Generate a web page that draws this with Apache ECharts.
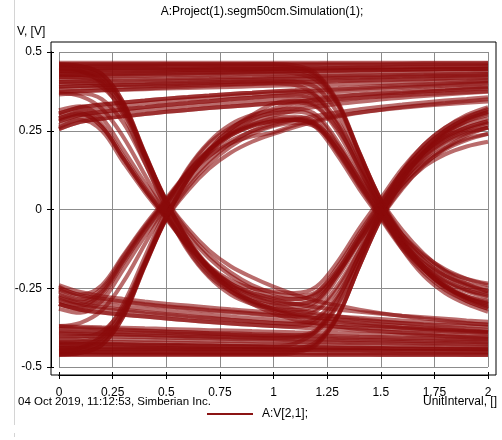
<!DOCTYPE html>
<html>
<head>
<meta charset="utf-8">
<style>
  html, body { margin: 0; padding: 0; background: #fff; }
  #chart { width: 502px; height: 440px; }
</style>
<script src="https://cdn.jsdelivr.net/npm/echarts@6.0.0/dist/echarts.min.js"></script>
</head>
<body>
<div id="chart"></div>
<script>
// Sample instants across two unit intervals
const unitInterval = [0,0.1,0.2,0.3,0.4,0.5,0.6,0.7,0.8,0.9,1.0,1.1,1.2,1.3,1.4,1.5,1.6,1.7,1.8,1.9,2.0];

// Long runs of ones
const steadyHigh = [
  [0.466,0.466,0.466,0.466,0.466,0.466,0.466,0.466,0.466,0.466,0.466,0.466,0.466,0.466,0.466,0.466,0.466,0.466,0.466,0.466,0.466],
  [0.46,0.46,0.46,0.46,0.46,0.461,0.461,0.461,0.461,0.462,0.462,0.462,0.462,0.463,0.463,0.463,0.463,0.464,0.464,0.464,0.465],
  [0.455,0.455,0.456,0.456,0.456,0.457,0.457,0.457,0.458,0.458,0.458,0.458,0.459,0.459,0.459,0.459,0.46,0.46,0.46,0.46,0.46],
  [0.45,0.45,0.449,0.449,0.449,0.448,0.448,0.448,0.447,0.447,0.447,0.447,0.446,0.446,0.446,0.446,0.445,0.445,0.445,0.445,0.445],
  [0.445,0.446,0.446,0.447,0.447,0.448,0.448,0.449,0.449,0.45,0.45,0.45,0.451,0.451,0.452,0.452,0.453,0.453,0.454,0.454,0.455],
  [0.438,0.439,0.44,0.441,0.441,0.442,0.443,0.444,0.445,0.445,0.446,0.447,0.448,0.449,0.449,0.45,0.451,0.452,0.452,0.453,0.454],
  [0.432,0.433,0.434,0.434,0.435,0.436,0.437,0.437,0.438,0.439,0.44,0.44,0.441,0.442,0.443,0.443,0.444,0.445,0.446,0.446,0.447],
  [0.426,0.427,0.428,0.43,0.431,0.432,0.433,0.434,0.435,0.436,0.437,0.438,0.439,0.44,0.441,0.442,0.443,0.444,0.445,0.446,0.447],
  [0.42,0.421,0.422,0.423,0.424,0.425,0.426,0.427,0.428,0.429,0.43,0.431,0.432,0.433,0.434,0.435,0.436,0.437,0.438,0.439,0.44],
  [0.412,0.413,0.414,0.415,0.416,0.417,0.418,0.419,0.42,0.421,0.422,0.423,0.424,0.425,0.426,0.427,0.428,0.429,0.43,0.431,0.432],
  [0.405,0.407,0.408,0.409,0.41,0.411,0.413,0.414,0.415,0.416,0.418,0.419,0.42,0.421,0.422,0.423,0.425,0.426,0.427,0.428,0.43],
  [0.398,0.4,0.402,0.403,0.405,0.406,0.408,0.409,0.411,0.412,0.414,0.415,0.416,0.418,0.419,0.42,0.422,0.423,0.424,0.425,0.427],
  [0.39,0.392,0.393,0.395,0.396,0.398,0.399,0.401,0.402,0.404,0.405,0.407,0.408,0.41,0.411,0.413,0.414,0.416,0.417,0.419,0.42],
  [0.383,0.385,0.387,0.389,0.391,0.393,0.395,0.397,0.398,0.4,0.402,0.404,0.405,0.407,0.409,0.41,0.412,0.413,0.415,0.416,0.418],
  [0.375,0.377,0.379,0.38,0.382,0.384,0.386,0.387,0.389,0.391,0.393,0.394,0.396,0.398,0.4,0.401,0.403,0.405,0.407,0.408,0.41]
];
// Ones settling slowly after a recent rise
const settlingHigh = [
  [0.28,0.30,0.31,0.318,0.325,0.332,0.338,0.344,0.35,0.355,0.36,0.365,0.37,0.374,0.378,0.382,0.386,0.39,0.393,0.396,0.40],
  [0.305,0.325,0.333,0.34,0.346,0.352,0.357,0.362,0.367,0.371,0.375,0.379,0.383,0.386,0.389,0.392,0.395,0.398,0.401,0.404,0.407],
  [0.255,0.278,0.288,0.296,0.303,0.31,0.316,0.322,0.327,0.332,0.337,0.342,0.346,0.35,0.354,0.358,0.362,0.366,0.369,0.372,0.375],
  [0.29,0.312,0.322,0.33,0.337,0.344,0.35,0.355,0.36,0.365,0.369,0.373,0.377,0.381,0.384,0.387,0.39,0.393,0.396,0.399,0.402],
  [0.268,0.29,0.3,0.308,0.315,0.321,0.327,0.333,0.338,0.343,0.348,0.352,0.357,0.361,0.364,0.368,0.371,0.375,0.378,0.381,0.384]
];
// 1,1,0
const highThenFall = [
  [0.462,0.462,0.462,0.462,0.462,0.462,0.462,0.462,0.462,0.462,0.462,0.457,0.432,0.342,0.182,0.032,-0.065,-0.14,-0.195,-0.235,-0.26],
  [0.452,0.452,0.452,0.453,0.453,0.453,0.453,0.454,0.454,0.454,0.454,0.45,0.426,0.338,0.18,0.03,-0.09,-0.18,-0.24,-0.28,-0.305],
  [0.44,0.44,0.441,0.441,0.442,0.442,0.443,0.443,0.444,0.444,0.445,0.442,0.42,0.335,0.18,0.03,-0.08,-0.16,-0.21,-0.245,-0.265],
  [0.425,0.426,0.427,0.428,0.429,0.43,0.431,0.432,0.433,0.434,0.435,0.432,0.41,0.33,0.175,0.025,-0.095,-0.185,-0.245,-0.285,-0.31],
  [0.39,0.392,0.394,0.396,0.398,0.40,0.402,0.404,0.405,0.407,0.408,0.406,0.388,0.305,0.163,0.018,-0.098,-0.185,-0.24,-0.275,-0.295],
  [0.372,0.375,0.378,0.381,0.384,0.387,0.39,0.393,0.396,0.398,0.40,0.395,0.36,0.265,0.13,-0.005,-0.125,-0.21,-0.265,-0.30,-0.325],
  [0.305,0.325,0.333,0.34,0.346,0.352,0.357,0.362,0.367,0.371,0.375,0.376,0.358,0.28,0.15,0.012,-0.105,-0.19,-0.25,-0.29,-0.315],
  [0.28,0.30,0.31,0.318,0.325,0.332,0.338,0.344,0.35,0.355,0.36,0.362,0.345,0.27,0.145,0.01,-0.10,-0.17,-0.21,-0.235,-0.25],
  [0.255,0.278,0.288,0.296,0.303,0.31,0.316,0.322,0.327,0.332,0.337,0.34,0.325,0.255,0.135,0.0,-0.11,-0.19,-0.245,-0.275,-0.29]
];
// 1,0,1
const fallThenRise = [
  [0.46,0.455,0.43,0.34,0.18,0.03,-0.07,-0.145,-0.20,-0.24,-0.265,-0.275,-0.262,-0.19,-0.085,0.015,0.11,0.18,0.23,0.26,0.28],
  [0.45,0.44,0.40,0.30,0.15,0.0,-0.125,-0.21,-0.26,-0.29,-0.305,-0.31,-0.292,-0.205,-0.095,0.008,0.105,0.175,0.225,0.255,0.275],
  [0.44,0.437,0.415,0.33,0.175,0.025,-0.095,-0.18,-0.235,-0.265,-0.28,-0.285,-0.265,-0.18,-0.075,0.025,0.12,0.19,0.245,0.28,0.30],
  [0.42,0.418,0.40,0.32,0.17,0.02,-0.10,-0.19,-0.25,-0.29,-0.315,-0.325,-0.315,-0.24,-0.13,-0.025,0.07,0.135,0.175,0.20,0.215],
  [0.405,0.404,0.388,0.31,0.165,0.016,-0.08,-0.155,-0.21,-0.25,-0.275,-0.285,-0.27,-0.20,-0.10,-0.003,0.08,0.145,0.19,0.22,0.24],
  [0.37,0.36,0.32,0.23,0.11,-0.01,-0.13,-0.215,-0.27,-0.30,-0.315,-0.32,-0.30,-0.215,-0.105,-0.005,0.09,0.16,0.21,0.24,0.26],
  [0.30,0.315,0.27,0.17,0.07,-0.02,-0.11,-0.18,-0.225,-0.25,-0.26,-0.265,-0.245,-0.165,-0.06,0.035,0.13,0.205,0.26,0.30,0.325],
  [0.285,0.302,0.262,0.162,0.063,-0.025,-0.12,-0.2,-0.25,-0.28,-0.295,-0.30,-0.28,-0.195,-0.085,0.02,0.12,0.195,0.25,0.288,0.31],
  [0.26,0.285,0.25,0.15,0.055,-0.03,-0.115,-0.19,-0.24,-0.27,-0.29,-0.30,-0.285,-0.205,-0.10,0.005,0.10,0.17,0.22,0.25,0.27]
];
// 1,0,0
const fallThenLow = [
  [0.46,0.455,0.43,0.34,0.18,0.03,-0.06,-0.13,-0.18,-0.215,-0.245,-0.27,-0.29,-0.305,-0.318,-0.329,-0.338,-0.346,-0.353,-0.36,-0.366],
  [0.445,0.442,0.42,0.333,0.176,0.026,-0.094,-0.186,-0.25,-0.29,-0.315,-0.332,-0.344,-0.352,-0.359,-0.365,-0.37,-0.375,-0.379,-0.383,-0.387],
  [0.43,0.428,0.408,0.325,0.172,0.022,-0.098,-0.19,-0.255,-0.295,-0.32,-0.338,-0.35,-0.358,-0.365,-0.37,-0.375,-0.379,-0.383,-0.387,-0.39],
  [0.365,0.368,0.35,0.275,0.148,0.008,-0.105,-0.195,-0.26,-0.30,-0.33,-0.35,-0.363,-0.372,-0.38,-0.386,-0.392,-0.397,-0.402,-0.406,-0.41],
  [0.315,0.328,0.29,0.19,0.085,-0.01,-0.105,-0.185,-0.24,-0.275,-0.3,-0.318,-0.33,-0.34,-0.348,-0.355,-0.361,-0.367,-0.372,-0.377,-0.381],
  [0.29,0.305,0.262,0.162,0.063,-0.025,-0.113,-0.185,-0.235,-0.265,-0.285,-0.30,-0.31,-0.318,-0.325,-0.331,-0.337,-0.342,-0.347,-0.352,-0.356]
];
// Long runs of zeros
const steadyLow = [
  [-0.462,-0.462,-0.462,-0.462,-0.462,-0.462,-0.462,-0.462,-0.462,-0.462,-0.462,-0.462,-0.462,-0.462,-0.462,-0.462,-0.462,-0.462,-0.462,-0.462,-0.462],
  [-0.457,-0.457,-0.457,-0.458,-0.458,-0.458,-0.458,-0.459,-0.459,-0.459,-0.459,-0.46,-0.46,-0.46,-0.46,-0.461,-0.461,-0.461,-0.461,-0.462,-0.462],
  [-0.452,-0.452,-0.453,-0.453,-0.453,-0.454,-0.454,-0.454,-0.455,-0.455,-0.455,-0.455,-0.456,-0.456,-0.456,-0.456,-0.457,-0.457,-0.457,-0.457,-0.457],
  [-0.447,-0.447,-0.446,-0.446,-0.446,-0.445,-0.445,-0.445,-0.444,-0.444,-0.444,-0.444,-0.443,-0.443,-0.443,-0.443,-0.442,-0.442,-0.442,-0.442,-0.442],
  [-0.442,-0.442,-0.443,-0.443,-0.444,-0.444,-0.445,-0.445,-0.446,-0.446,-0.446,-0.447,-0.447,-0.448,-0.448,-0.449,-0.449,-0.449,-0.45,-0.45,-0.45],
  [-0.436,-0.437,-0.438,-0.439,-0.439,-0.44,-0.441,-0.442,-0.443,-0.443,-0.444,-0.445,-0.446,-0.447,-0.447,-0.448,-0.449,-0.45,-0.45,-0.451,-0.452],
  [-0.43,-0.431,-0.431,-0.432,-0.433,-0.433,-0.434,-0.435,-0.435,-0.436,-0.437,-0.437,-0.438,-0.439,-0.439,-0.44,-0.441,-0.441,-0.442,-0.443,-0.443],
  [-0.424,-0.425,-0.426,-0.428,-0.429,-0.43,-0.431,-0.432,-0.433,-0.434,-0.435,-0.436,-0.437,-0.438,-0.439,-0.44,-0.441,-0.442,-0.443,-0.444,-0.445],
  [-0.418,-0.419,-0.42,-0.421,-0.422,-0.423,-0.424,-0.425,-0.426,-0.427,-0.428,-0.428,-0.429,-0.43,-0.431,-0.432,-0.433,-0.434,-0.435,-0.436,-0.437],
  [-0.41,-0.411,-0.412,-0.413,-0.414,-0.415,-0.416,-0.417,-0.418,-0.419,-0.42,-0.421,-0.422,-0.423,-0.424,-0.425,-0.426,-0.427,-0.428,-0.429,-0.43],
  [-0.40,-0.401,-0.403,-0.404,-0.405,-0.407,-0.408,-0.409,-0.411,-0.412,-0.413,-0.415,-0.416,-0.417,-0.419,-0.42,-0.421,-0.423,-0.424,-0.425,-0.427],
  [-0.393,-0.395,-0.397,-0.398,-0.4,-0.401,-0.403,-0.404,-0.406,-0.407,-0.409,-0.41,-0.411,-0.413,-0.414,-0.415,-0.417,-0.418,-0.419,-0.42,-0.422],
  [-0.385,-0.387,-0.388,-0.39,-0.391,-0.393,-0.395,-0.396,-0.398,-0.4,-0.401,-0.403,-0.404,-0.406,-0.408,-0.409,-0.411,-0.412,-0.414,-0.416,-0.417],
  [-0.378,-0.38,-0.382,-0.384,-0.386,-0.388,-0.39,-0.392,-0.393,-0.395,-0.397,-0.399,-0.40,-0.402,-0.404,-0.405,-0.407,-0.408,-0.41,-0.411,-0.413],
  [-0.37,-0.372,-0.374,-0.375,-0.377,-0.379,-0.381,-0.383,-0.384,-0.386,-0.388,-0.39,-0.391,-0.393,-0.395,-0.397,-0.398,-0.40,-0.402,-0.404,-0.405]
];
// Zeros settling slowly after a recent fall
const settlingLow = [
  [-0.27,-0.29,-0.30,-0.308,-0.315,-0.322,-0.328,-0.334,-0.34,-0.345,-0.35,-0.355,-0.36,-0.364,-0.368,-0.372,-0.376,-0.38,-0.383,-0.386,-0.39],
  [-0.30,-0.318,-0.327,-0.334,-0.34,-0.346,-0.352,-0.357,-0.362,-0.366,-0.37,-0.374,-0.378,-0.381,-0.384,-0.387,-0.39,-0.393,-0.396,-0.399,-0.402],
  [-0.24,-0.262,-0.275,-0.284,-0.292,-0.299,-0.305,-0.311,-0.317,-0.322,-0.327,-0.332,-0.336,-0.34,-0.344,-0.348,-0.352,-0.356,-0.359,-0.362,-0.365],
  [-0.285,-0.305,-0.315,-0.322,-0.329,-0.335,-0.341,-0.346,-0.351,-0.356,-0.36,-0.364,-0.368,-0.372,-0.375,-0.378,-0.381,-0.384,-0.387,-0.39,-0.393],
  [-0.255,-0.277,-0.288,-0.296,-0.303,-0.31,-0.316,-0.322,-0.327,-0.332,-0.337,-0.341,-0.345,-0.349,-0.353,-0.357,-0.36,-0.364,-0.367,-0.37,-0.373]
];
// 0,0,1
const lowThenRise = [
  [-0.46,-0.46,-0.46,-0.46,-0.46,-0.46,-0.46,-0.46,-0.46,-0.46,-0.46,-0.455,-0.43,-0.34,-0.18,-0.03,0.065,0.14,0.195,0.235,0.26],
  [-0.452,-0.452,-0.452,-0.453,-0.453,-0.453,-0.453,-0.454,-0.454,-0.454,-0.454,-0.45,-0.426,-0.338,-0.18,-0.03,0.09,0.18,0.24,0.28,0.305],
  [-0.44,-0.44,-0.441,-0.441,-0.442,-0.442,-0.443,-0.443,-0.444,-0.444,-0.445,-0.442,-0.42,-0.335,-0.18,-0.03,0.085,0.165,0.215,0.245,0.26],
  [-0.425,-0.426,-0.427,-0.428,-0.429,-0.43,-0.431,-0.432,-0.433,-0.434,-0.435,-0.425,-0.385,-0.285,-0.145,-0.005,0.12,0.205,0.26,0.295,0.315],
  [-0.39,-0.392,-0.394,-0.396,-0.398,-0.40,-0.402,-0.404,-0.405,-0.407,-0.408,-0.406,-0.388,-0.305,-0.163,-0.018,0.098,0.18,0.23,0.26,0.28],
  [-0.372,-0.375,-0.378,-0.381,-0.384,-0.387,-0.39,-0.393,-0.396,-0.398,-0.40,-0.40,-0.382,-0.30,-0.16,-0.015,0.10,0.185,0.245,0.285,0.31],
  [-0.30,-0.318,-0.327,-0.334,-0.34,-0.346,-0.352,-0.357,-0.362,-0.366,-0.37,-0.372,-0.355,-0.278,-0.15,-0.012,0.10,0.18,0.235,0.27,0.29],
  [-0.28,-0.30,-0.31,-0.318,-0.325,-0.332,-0.338,-0.344,-0.35,-0.355,-0.36,-0.362,-0.345,-0.27,-0.145,-0.01,0.08,0.15,0.195,0.225,0.24],
  [-0.25,-0.272,-0.283,-0.292,-0.3,-0.307,-0.313,-0.319,-0.324,-0.329,-0.335,-0.338,-0.322,-0.252,-0.13,0.005,0.115,0.195,0.25,0.29,0.32]
];
// 0,1,0
const riseThenFall = [
  [-0.46,-0.455,-0.43,-0.34,-0.18,-0.03,0.07,0.145,0.20,0.24,0.265,0.275,0.262,0.19,0.085,-0.015,-0.11,-0.18,-0.23,-0.26,-0.28],
  [-0.45,-0.44,-0.40,-0.30,-0.15,0.0,0.125,0.21,0.26,0.29,0.305,0.31,0.292,0.205,0.095,-0.008,-0.105,-0.175,-0.225,-0.255,-0.275],
  [-0.44,-0.437,-0.415,-0.33,-0.175,-0.025,0.095,0.18,0.235,0.265,0.28,0.285,0.265,0.18,0.075,-0.025,-0.12,-0.19,-0.245,-0.28,-0.30],
  [-0.42,-0.418,-0.40,-0.32,-0.17,-0.02,0.10,0.19,0.255,0.30,0.335,0.345,0.33,0.245,0.125,0.015,-0.08,-0.15,-0.195,-0.22,-0.235],
  [-0.405,-0.404,-0.388,-0.31,-0.165,-0.016,0.08,0.155,0.21,0.25,0.275,0.285,0.27,0.20,0.10,0.003,-0.08,-0.145,-0.19,-0.22,-0.24],
  [-0.37,-0.36,-0.32,-0.23,-0.11,0.01,0.13,0.215,0.27,0.30,0.315,0.32,0.30,0.215,0.105,0.005,-0.09,-0.16,-0.21,-0.24,-0.26],
  [-0.29,-0.305,-0.265,-0.165,-0.065,0.025,0.115,0.185,0.235,0.265,0.28,0.285,0.26,0.17,0.065,-0.03,-0.125,-0.20,-0.255,-0.29,-0.315],
  [-0.275,-0.295,-0.258,-0.16,-0.06,0.028,0.118,0.19,0.238,0.268,0.285,0.29,0.27,0.185,0.08,-0.02,-0.115,-0.19,-0.245,-0.28,-0.30],
  [-0.245,-0.27,-0.24,-0.145,-0.05,0.035,0.12,0.19,0.24,0.27,0.29,0.295,0.275,0.19,0.085,-0.015,-0.11,-0.18,-0.225,-0.255,-0.27]
];
// 0,1,1
const riseThenHigh = [
  [-0.46,-0.455,-0.43,-0.34,-0.18,-0.03,0.06,0.13,0.18,0.215,0.24,0.262,0.28,0.295,0.307,0.317,0.325,0.332,0.338,0.344,0.35],
  [-0.445,-0.442,-0.42,-0.333,-0.176,-0.026,0.094,0.183,0.243,0.278,0.298,0.314,0.326,0.335,0.342,0.349,0.355,0.36,0.365,0.37,0.374],
  [-0.43,-0.428,-0.408,-0.325,-0.172,-0.022,0.098,0.19,0.255,0.295,0.32,0.338,0.35,0.358,0.365,0.37,0.375,0.379,0.383,0.387,0.39],
  [-0.315,-0.328,-0.29,-0.19,-0.085,0.01,0.1,0.17,0.218,0.248,0.268,0.285,0.298,0.309,0.318,0.326,0.333,0.34,0.346,0.351,0.356],
  [-0.30,-0.315,-0.272,-0.17,-0.07,0.02,0.105,0.17,0.21,0.232,0.245,0.268,0.285,0.298,0.308,0.316,0.323,0.329,0.334,0.339,0.343],
  [-0.26,-0.285,-0.25,-0.15,-0.055,0.03,0.115,0.19,0.245,0.285,0.31,0.325,0.337,0.346,0.354,0.361,0.367,0.373,0.378,0.383,0.387]
];

const traceName = 'A:V[2,1];';
const traceColor = 'rgba(138,10,10,0.6)';
const font = 'Liberation Sans, Arial, sans-serif';

const traces = [].concat(steadyHigh, settlingHigh, highThenFall, fallThenRise, fallThenLow,
                         steadyLow, settlingLow, lowThenRise, riseThenFall, riseThenHigh);

const series = traces.map(trace => ({
  type: 'line',
  name: traceName,
  xAxisIndex: 1,
  yAxisIndex: 1,
  data: trace.map((v, i) => [unitInterval[i], v]),
  showSymbol: false,
  smooth: 0.35,
  silent: true,
  lineStyle: { color: traceColor, width: 4 },
  itemStyle: { color: '#8b1414' }
}));

const axisCommon = {
  type: 'value',
  gridIndex: 1,
  offset: 8,
  axisLine: { show: true, onZero: false, lineStyle: { color: '#000', width: 1 } }
};

const chart = echarts.init(document.getElementById('chart'), null, { renderer: 'canvas' });
chart.setOption({
  animation: false,
  backgroundColor: '#fff',
  textStyle: { fontFamily: font },
  grid: [
    { left: 51, top: 42, width: 445, height: 333, show: true, borderColor: '#000', borderWidth: 1 },
    { left: 59, top: 52, width: 429, height: 315 }
  ],
  xAxis: [
    { type: 'value', gridIndex: 0, show: false, min: 0, max: 1 },
    Object.assign({}, axisCommon, {
      position: 'bottom', min: 0, max: 2, interval: 0.25,
      axisTick: { show: true, inside: false, length: 4, lineStyle: { color: '#000' } },
      axisLabel: { color: '#000', fontSize: 12, margin: 12, fontFamily: font },
      splitLine: { show: true, lineStyle: { color: '#8c8c8c', width: 1 } }
    }),
    Object.assign({}, axisCommon, {
      position: 'bottom', min: 0, max: 2, interval: 0.25,
      axisTick: { show: true, inside: true, length: 3, lineStyle: { color: '#000' } },
      axisLabel: { show: false },
      splitLine: { show: false }
    })
  ],
  yAxis: [
    { type: 'value', gridIndex: 0, show: false, min: 0, max: 1 },
    Object.assign({}, axisCommon, {
      position: 'left', min: -0.5, max: 0.5, interval: 0.25,
      axisTick: { show: true, inside: false, length: 4, lineStyle: { color: '#000' } },
      axisLabel: { color: '#000', fontSize: 12, margin: 9, fontFamily: font },
      splitLine: { show: true, lineStyle: { color: '#8c8c8c', width: 1 } }
    }),
    Object.assign({}, axisCommon, {
      position: 'left', min: -0.5, max: 0.5, interval: 0.25,
      axisTick: { show: true, inside: true, length: 3, lineStyle: { color: '#000' } },
      axisLabel: { show: false },
      splitLine: { show: false }
    })
  ],
  legend: {
    data: [traceName],
    left: 207,
    top: 408,
    padding: 0,
    icon: 'rect',
    itemWidth: 46,
    itemHeight: 2,
    itemGap: 10,
    selectedMode: false,
    itemStyle: { color: '#8b1414', opacity: 1 },
    textStyle: { color: '#000', fontSize: 12, fontFamily: font, padding: [0, 0, 0, 4] }
  },
  graphic: [
    { type: 'line', silent: true, shape: { x1: 14.5, y1: 0, x2: 14.5, y2: 425 }, style: { stroke: '#d4d4d4', lineWidth: 1 } },
    { type: 'line', silent: true, shape: { x1: 14.5, y1: 433, x2: 14.5, y2: 437 }, style: { stroke: '#d4d4d4', lineWidth: 1 } },
    { type: 'text', silent: true, x: 262, y: 12, style: { text: 'A:Project(1).segm50cm.Simulation(1);', font: '12px ' + font, fill: '#000', textAlign: 'center', textVerticalAlign: 'middle' } },
    { type: 'text', silent: true, x: 17, y: 32, style: { text: 'V, [V]', font: '12px ' + font, fill: '#000', textAlign: 'left', textVerticalAlign: 'middle' } },
    { type: 'text', silent: true, x: 18, y: 402, style: { text: '04 Oct 2019, 11:12:53, Simberian Inc.', font: '11.5px ' + font, fill: '#000', textAlign: 'left', textVerticalAlign: 'middle' } },
    { type: 'text', silent: true, x: 497, y: 402, style: { text: 'UnitInterval, []', font: '12px ' + font, fill: '#000', textAlign: 'right', textVerticalAlign: 'middle' } }
  ],
  series: series
});
</script>
</body>
</html>
